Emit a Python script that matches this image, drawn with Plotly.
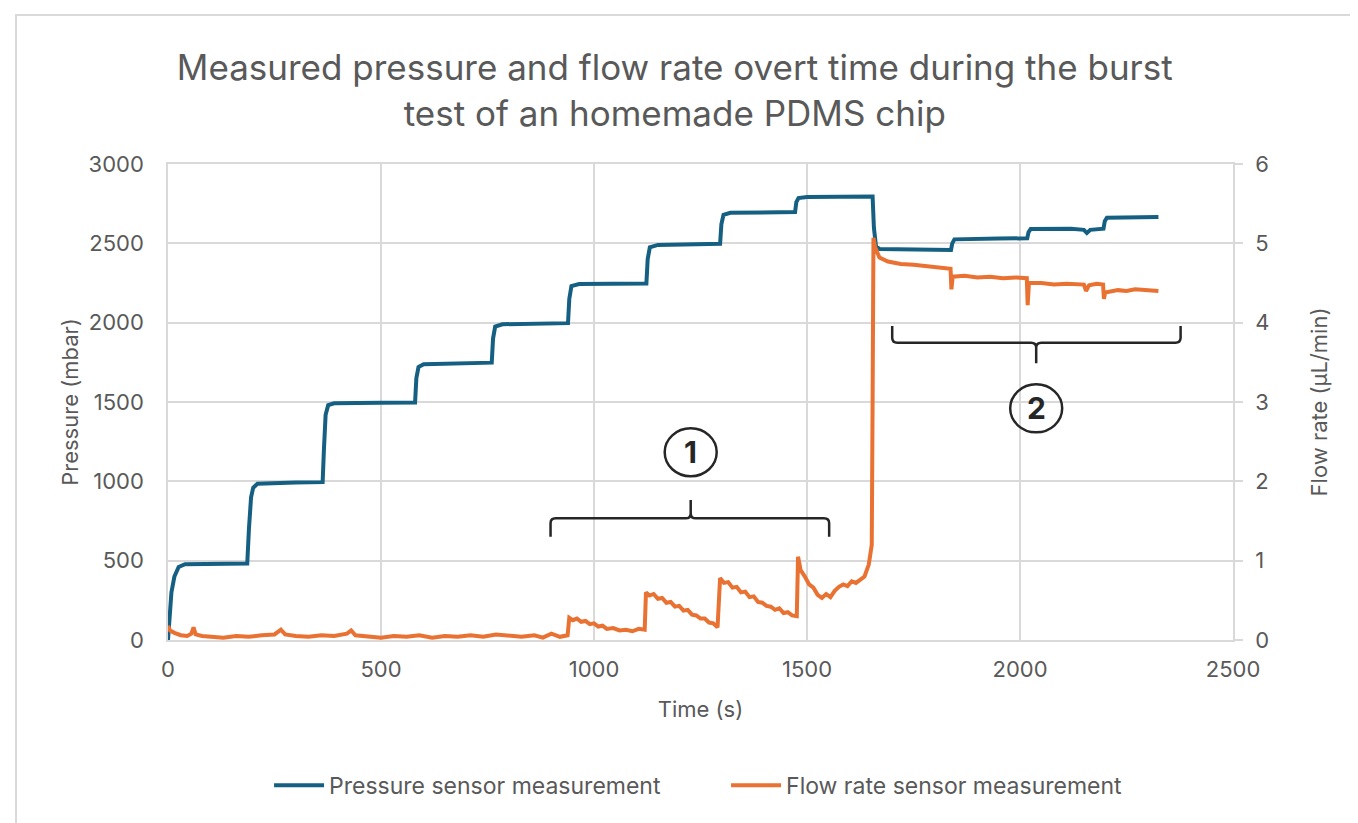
import plotly.graph_objects as go

# ---- data ----
pressure_time = [0, 3, 8, 15, 25, 40, 100, 186, 190, 195, 200, 210, 300, 363, 366, 370, 376, 390,
                 500, 580, 583, 588, 600, 700, 760, 763, 768, 785, 900, 939, 942, 947, 965, 1050,
                 1123, 1126, 1131, 1150, 1250, 1296, 1299, 1304, 1320, 1400, 1472, 1475, 1480, 1500,
                 1600, 1654, 1657, 1662, 1670, 1750, 1838, 1841, 1846, 1950, 2017, 2020, 2025, 2120,
                 2150, 2157, 2165, 2196, 2199, 2204, 2280, 2325]
pressure_mbar = [0, 150, 300, 400, 460, 478, 480, 482, 700, 900, 960, 985, 992, 995, 1200, 1420, 1480, 1492,
                 1495, 1497, 1650, 1720, 1738, 1745, 1748, 1900, 1975, 1990, 1995, 1997, 2150, 2230, 2243, 2245,
                 2247, 2400, 2475, 2490, 2495, 2497, 2620, 2680, 2692, 2695, 2698, 2760, 2785, 2792,
                 2795, 2795, 2600, 2480, 2465, 2460, 2458, 2500, 2525, 2530, 2532, 2570, 2590, 2592,
                 2585, 2565, 2585, 2592, 2640, 2662, 2665, 2666]

flow_time = [0, 5, 15, 30, 45, 55, 60, 65, 80, 100, 130, 160, 190, 220, 250, 265, 275, 300, 330, 360,
             390, 420, 430, 440, 470, 500, 530, 560, 590, 620, 650, 680, 710, 740, 770, 800, 830, 860,
             880, 900, 920, 938, 942, 950, 960, 970, 980, 990, 1000, 1010, 1020, 1030, 1045, 1060, 1075,
             1090, 1105, 1119, 1122, 1130, 1140, 1150, 1160, 1170, 1180, 1190, 1200, 1210, 1220, 1230,
             1240, 1250, 1260, 1270, 1280, 1290, 1293, 1296, 1305, 1315, 1325, 1335, 1345, 1355, 1365,
             1375, 1385, 1395, 1405, 1415, 1425, 1435, 1445, 1455, 1465, 1476, 1479, 1485, 1495, 1505,
             1515, 1525, 1535, 1545, 1555, 1565, 1575, 1585, 1595, 1605, 1615, 1625, 1635, 1645, 1652,
             1654, 1656, 1660, 1670, 1690, 1720, 1750, 1780, 1800, 1820, 1837, 1839, 1842, 1870, 1900,
             1930, 1960, 1990, 2016, 2018, 2021, 2050, 2080, 2110, 2150, 2155, 2162, 2180, 2195, 2197,
             2200, 2230, 2250, 2270, 2300, 2325]
flow_ul_min = [0.18, 0.12, 0.09, 0.06, 0.05, 0.08, 0.16, 0.07, 0.05, 0.04, 0.03, 0.05, 0.04, 0.06, 0.07,
               0.13, 0.07, 0.05, 0.04, 0.06, 0.05, 0.08, 0.12, 0.06, 0.04, 0.03, 0.05, 0.04, 0.06, 0.03,
               0.05, 0.04, 0.06, 0.04, 0.07, 0.05, 0.04, 0.06, 0.03, 0.08, 0.04, 0.06, 0.28, 0.25, 0.27,
               0.23, 0.24, 0.20, 0.21, 0.17, 0.18, 0.14, 0.15, 0.12, 0.13, 0.11, 0.14, 0.13, 0.60, 0.56,
               0.58, 0.52, 0.53, 0.47, 0.48, 0.42, 0.43, 0.37, 0.38, 0.32, 0.31, 0.27, 0.27, 0.22, 0.21,
               0.16, 0.50, 0.78, 0.72, 0.73, 0.66, 0.67, 0.60, 0.61, 0.54, 0.55, 0.48, 0.47, 0.43, 0.42,
               0.38, 0.40, 0.34, 0.35, 0.31, 0.30, 1.05, 0.88, 0.80, 0.70, 0.66, 0.57, 0.53, 0.58, 0.54,
               0.62, 0.67, 0.70, 0.68, 0.74, 0.72, 0.76, 0.80, 0.95, 1.20, 3.0, 5.07, 4.95, 4.82, 4.77,
               4.74, 4.73, 4.71, 4.70, 4.69, 4.68, 4.42, 4.58, 4.59, 4.57, 4.58, 4.56, 4.57, 4.56, 4.22,
               4.50, 4.50, 4.48, 4.49, 4.48, 4.40, 4.47, 4.49, 4.48, 4.30, 4.38, 4.41, 4.40, 4.42, 4.41,
               4.40]

# bracket annotations (time, pressure-axis coordinates)
bracket1 = dict(left=898, right=1552, mid=1227, line=767, ends=651, tip=882, label="1", label_y=1183)
bracket2 = dict(left=1700, right=2377, mid=2038, line=1874, ends=1979, tip=1744, label="2", label_y=1460)

BLUE = "#156082"
ORANGE = "#E97132"
GRAY = "#595959"
GRID = "#d9d9d9"
FONT = "Inter"

fig = go.Figure()
fig.add_trace(go.Scatter(x=pressure_time, y=pressure_mbar, mode="lines", name="Pressure sensor measurement",
                         line=dict(color=BLUE, width=4)))
fig.add_trace(go.Scatter(x=flow_time, y=flow_ul_min, mode="lines", name="Flow rate sensor measurement",
                         line=dict(color=ORANGE, width=4), yaxis="y2"))


def bracket_path(b, rx=12, ry=31):
    L, R, M, Y, E, T = b["left"], b["right"], b["mid"], b["line"], b["ends"], b["tip"]
    sgn_e = 1 if E > Y else -1
    sgn_t = 1 if T > Y else -1
    p = (f"M {L},{E} L {L},{Y + sgn_e * ry} Q {L},{Y} {L + rx},{Y} "
         f"L {M - rx},{Y} Q {M},{Y} {M},{Y + sgn_t * ry} L {M},{T} "
         f"M {M},{Y + sgn_t * ry} Q {M},{Y} {M + rx},{Y} "
         f"L {R - rx},{Y} Q {R},{Y} {R},{Y + sgn_e * ry} L {R},{E}")
    return p


shapes = []
annotations = []
for b in (bracket1, bracket2):
    shapes.append(dict(type="path", xref="x", yref="y", path=bracket_path(b),
                       line=dict(color="#262626", width=2.5)))
    shapes.append(dict(type="circle", xref="x", yref="y", xsizemode="pixel", ysizemode="pixel",
                       xanchor=b["mid"], yanchor=b["label_y"], x0=-26, x1=26, y0=-24, y1=24,
                       line=dict(color="#262626", width=2.5)))
    annotations.append(dict(x=b["mid"], y=b["label_y"], xref="x", yref="y", text=f"<b>{b['label']}</b>",
                            showarrow=False, font=dict(family=FONT, size=30, color="#262626")))

# outer chart frame
shapes.append(dict(type="rect", xref="paper", yref="paper", x0=-0.1427, x1=1.1164, y0=-0.42, y1=1.313,
                   line=dict(color=GRID, width=2), layer="below"))

fig.update_layout(
    width=1358, height=823,
    margin=dict(l=160, r=133, t=156, b=191),
    paper_bgcolor="white", plot_bgcolor="white",
    font=dict(family=FONT, size=22, color=GRAY),
    title=dict(text="Measured pressure and flow rate overt time during the burst<br>test of an homemade PDMS chip",
               x=0.491, xanchor="center", y=0.912, yanchor="top", xref="container", yref="container",
               font=dict(family=FONT, size=35, color=GRAY)),
    xaxis=dict(range=[0, 2500], dtick=500, showgrid=True, gridcolor=GRID, gridwidth=1.5,
               showline=True, linecolor=GRID, linewidth=1.5, mirror=True, zeroline=False,
               ticks="", ticklabelstandoff=9, automargin=False,
               title=dict(text="Time (s)", standoff=20, font=dict(size=22, color=GRAY))),
    yaxis=dict(range=[0, 3000], dtick=500, showgrid=True, gridcolor=GRID, gridwidth=1.5,
               showline=True, linecolor=GRID, linewidth=1.5, zeroline=False, ticks="",
               ticklabelstandoff=18, automargin=False,
               title=dict(text="Pressure (mbar)", standoff=4, font=dict(size=22, color=GRAY))),
    yaxis2=dict(range=[0, 6], dtick=1, overlaying="y", side="right", showgrid=False,
                showline=True, linecolor=GRID, linewidth=1.5, zeroline=False, automargin=False,
                ticks="outside", ticklen=8, tickcolor=GRID, tickwidth=1.5, ticklabelstandoff=8,
                title=dict(text="Flow rate (µL/min)", standoff=43, font=dict(size=22, color=GRAY))),
    legend=dict(orientation="h", x=0.524, xanchor="center", y=-0.26, yanchor="top",
                font=dict(family=FONT, size=23, color=GRAY), itemwidth=50, entrywidth=392),
    shapes=shapes,
    annotations=annotations,
)

fig.write_html("out.html")
